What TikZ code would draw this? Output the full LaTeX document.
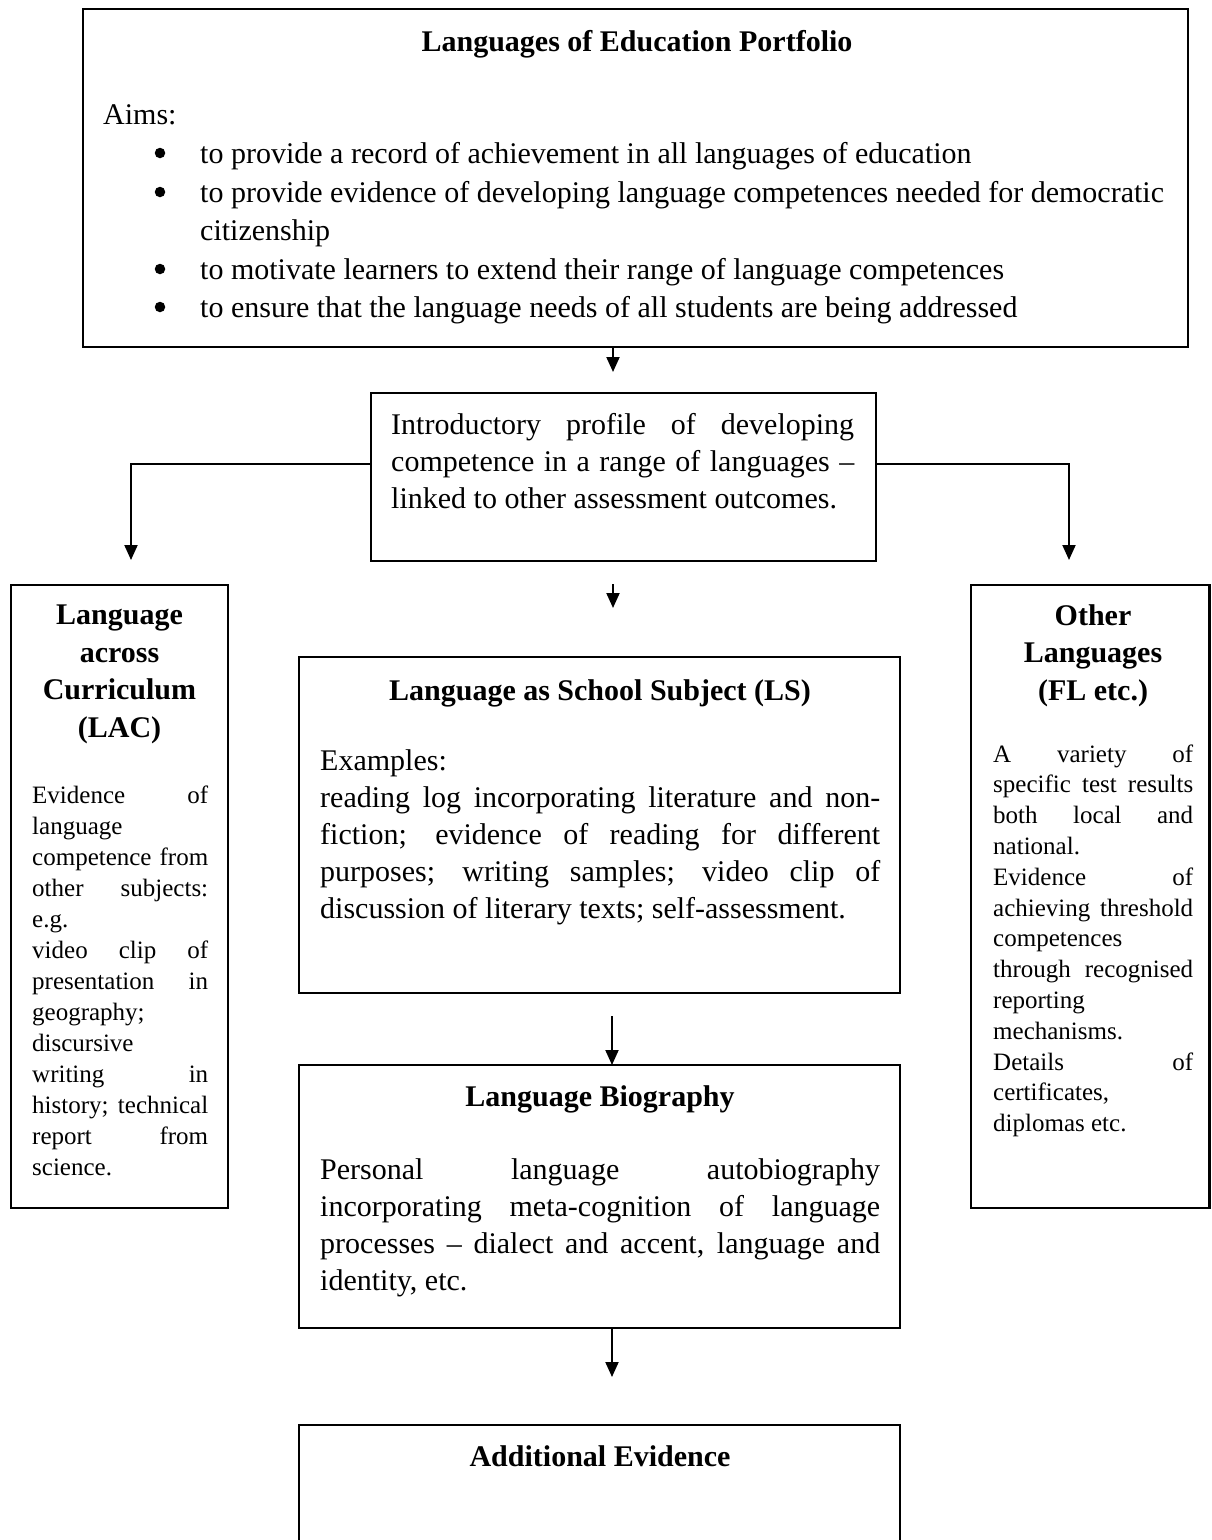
\documentclass[tikz,border=0pt]{standalone}
\usepackage{fontspec}
\setmainfont{Liberation Serif}
\usetikzlibrary{arrows.meta}
\newlength\jw
\newcommand\J[1]{\makebox[\jw][s]{#1}}
\begin{document}
\begin{tikzpicture}[x=1pt,y=-1pt,
  box/.style={draw=black, line width=2.2pt, anchor=north west, inner sep=0pt, outer sep=0pt},
  arr/.style={line width=2pt, -{Triangle[length=15pt,width=13pt]}},
  big/.style={font=\fontsize{30}{36}\selectfont, inner sep=0pt},
  bigb/.style={font=\fontsize{30}{36}\selectfont\bfseries, inner sep=0pt},
  small/.style={font=\fontsize{25}{30}\selectfont, inner sep=0pt},
  bulletdot/.style={fill=black, circle, inner sep=0pt, minimum size=10.5pt}]
\clip (0,0) rectangle (1211,1540);
\fill[white] (0,0) rectangle (1211,1540);

% boxes
\node[box, minimum width=1105pt, minimum height=338pt] (top) at (83,9) {};
\node[box, minimum width=505pt, minimum height=168pt] (intro) at (371,393) {};
\node[box, minimum width=217pt, minimum height=623pt] (lac) at (11,585) {};
\node[box, minimum width=238.5pt, minimum height=623pt] (other) at (971,585) {};
\node[box, minimum width=601pt, minimum height=336pt] (ls) at (299,657) {};
\node[box, minimum width=601pt, minimum height=263pt] (bio) at (299,1065) {};
\node[box, minimum width=601pt, minimum height=200pt] (add) at (299,1425) {};

% connectors
\coordinate (t1) at (613,372);
\draw[arr] (top.south -| t1) -- (t1);
\coordinate (lt) at (131,560);
\coordinate (rt) at (1069,560);
\draw[arr] ([yshift=13pt]intro.west) -| (lt);
\draw[arr] ([yshift=13pt]intro.east) -| (rt);
\coordinate (m1) at (613,584);
\coordinate (m2) at (613,608);
\draw[arr] (m1) -- (m2);
\coordinate (b0) at (612,1016);
\draw[arr] (b0) -- (b0 |- bio.north);
\coordinate (a1) at (612,1377);
\draw[arr] (bio.south -| a1) -- (a1);

% top box text
\node[bigb, anchor=base] (ttl) at (637,51) {Languages of Education Portfolio};
\node[big, anchor=base west] (aims) at (103,124) {Aims:};
\foreach \yy [count=\i] in {163,202,279,317}
  \node[bulletdot] (bul\i) at (160,\yy-10) {};
\node[big, anchor=base west] (aim1) at (200,163) {to provide a record of achievement in all languages of education};
\node[big, anchor=base west] (aim2) at (200,202) {to provide evidence of developing language competences needed for democratic};
\node[big, anchor=base west] (aim2b) at (200,240) {citizenship};
\node[big, anchor=base west] (aim3) at (200,279) {to motivate learners to extend their range of language competences};
\node[big, anchor=base west] (aim4) at (200,317) {to ensure that the language needs of all students are being addressed};

% intro text
\setlength\jw{463pt}
\node[big, anchor=base west] (in1) at (391,434) {\J{Introductory profile of developing}};
\node[big, anchor=base west] (in2) at (391,471) {\J{competence in a range of languages –}};
\node[big, anchor=base west] (in3) at (391,508) {linked to other assessment outcomes.};

% LAC
\node[bigb, anchor=base] (lact1) at (119.5,624.5) {Language};
\node[bigb, anchor=base] (lact2) at (119.5,662) {across};
\node[bigb, anchor=base] (lact3) at (119.5,699.5) {Curriculum};
\node[bigb, anchor=base] (lact4) at (119.5,737) {(LAC)};
\setlength\jw{176pt}
\foreach \t [count=\i from 0] in {{\J{Evidence of}},{language},{\J{competence from}},{\J{other subjects:}},{e.g.},{\J{video clip of}},{\J{presentation in}},{geography;},{discursive},{\J{writing in}},{\J{history; technical}},{\J{report from}},{science.}}
  \node[small, anchor=base west] (lac\i) at (32,{803+31*\i}) {\t};

% Other languages
\node[bigb, anchor=base] (ot1) at (1093,625) {Other};
\node[bigb, anchor=base] (ot2) at (1093,662.5) {Languages};
\node[bigb, anchor=base] (ot3) at (1093,700) {(FL etc.)};
\setlength\jw{200pt}
\foreach \t [count=\i from 0] in {{\J{A variety of}},{\J{specific test results}},{\J{both local and}},{national.},{\J{Evidence of}},{\J{achieving threshold}},{competences},{\J{through recognised}},{reporting},{mechanisms.},{\J{Details of}},{certificates,},{diplomas etc.}}
  \node[small, anchor=base west] (ol\i) at (993,{762+30.8*\i}) {\t};

% LS
\node[bigb, anchor=base] (lst) at (600,700) {Language as School Subject (LS)};
\setlength\jw{560pt}
\node[big, anchor=base west] (ls0) at (320,770) {Examples:};
\node[big, anchor=base west] (ls1) at (320,807) {\J{reading log incorporating literature and non-}};
\node[big, anchor=base west] (ls2) at (320,844) {\J{fiction; evidence of reading for different}};
\node[big, anchor=base west] (ls3) at (320,881) {\J{purposes; writing samples; video clip of}};
\node[big, anchor=base west] (ls4) at (320,918) {discussion of literary texts; self-assessment.};

% Biography
\node[bigb, anchor=base] (biot) at (600,1106) {Language Biography};
\node[big, anchor=base west] (bio1) at (320,1179) {\J{Personal language autobiography}};
\node[big, anchor=base west] (bio2) at (320,1216) {\J{incorporating meta-cognition of language}};
\node[big, anchor=base west] (bio3) at (320,1253) {\J{processes – dialect and accent, language and}};
\node[big, anchor=base west] (bio4) at (320,1290) {identity, etc.};

% Additional
\node[bigb, anchor=base] (addt) at (600,1466) {Additional Evidence};
\end{tikzpicture}
\end{document}
